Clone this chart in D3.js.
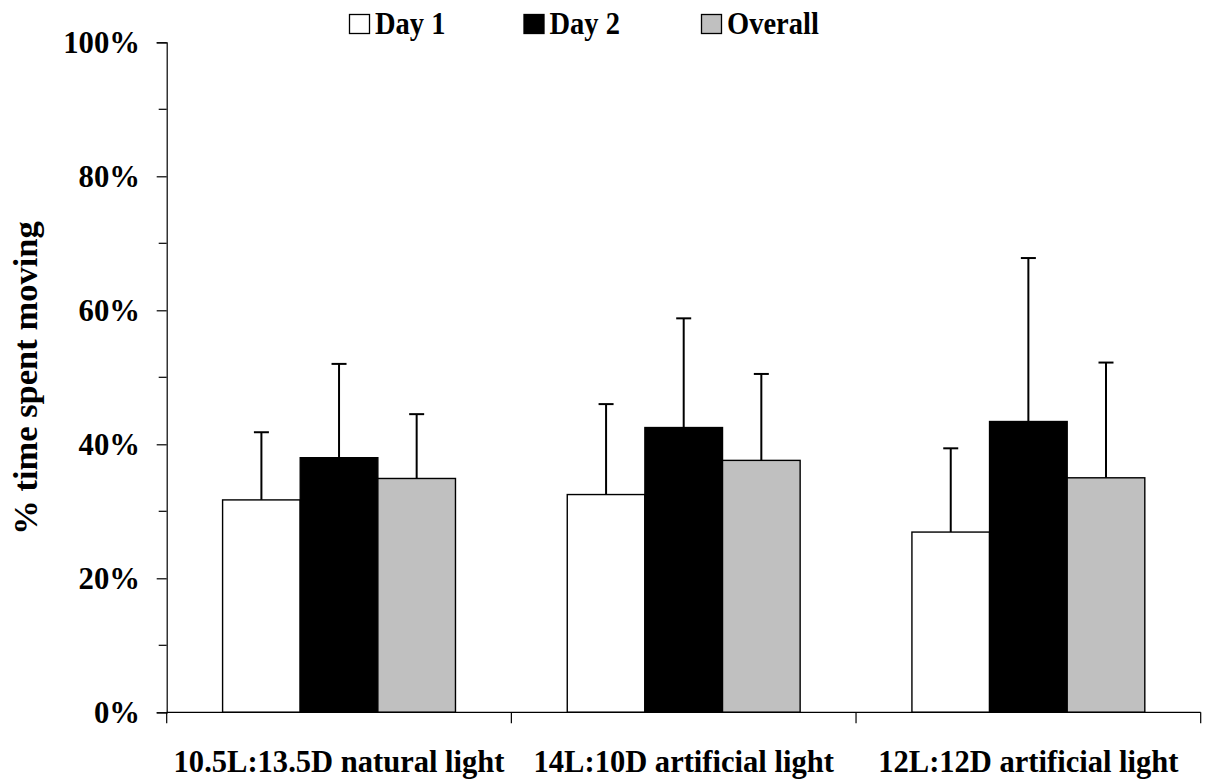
<!DOCTYPE html>
<html>
<head>
<meta charset="utf-8">
<script src="https://cdn.jsdelivr.net/npm/d3@7"></script>
<style>
  html, body { margin: 0; padding: 0; background: #fff; }
  svg { display: block; }
  text { font-family: "Liberation Serif", "Times New Roman", serif; font-weight: bold; fill: #000; }
</style>
</head>
<body>
<svg id="chart" width="1211" height="783"></svg>
<script>
// Photoperiod conditions
const categories = ["10.5L:13.5D natural light", "14L:10D artificial light", "12L:12D artificial light"];
const seriesNames = ["Day 1", "Day 2", "Overall"];
const seriesColors = ["#ffffff", "#000000", "#c0c0c0"];

// Mean % time spent moving and the upper error (SD)
const day1 = [31.7, 32.5, 26.9];
const day1Err = [10.1, 13.5, 12.5];
const day2 = [38.0, 42.5, 43.4];
const day2Err = [14.0, 16.3, 24.4];
const overall = [34.9, 37.6, 35.0];
const overallErr = [9.6, 12.9, 17.2];

const yTicks = [0, 20, 40, 60, 80, 100];
const yMinorTicks = [10, 30, 50, 70, 90];

const values = [day1, day2, overall];
const errors = [day1Err, day2Err, overallErr];

const svg = d3.select("#chart");

const plotLeft = 166.7, plotRight = 1200.7, plotTop = 42.3, plotBottom = 712.3;

const y = d3.scaleLinear().domain([0, 100]).range([plotBottom, plotTop]);
const x0 = d3.scaleBand().domain(categories).range([plotLeft, plotRight]).padding(0);
const x1 = d3.scaleBand().domain(seriesNames).range([0, x0.bandwidth()])
  .paddingInner(0).paddingOuter(0.72);

// Rows for each bar
const rows = [];
categories.forEach((c, ci) => {
  seriesNames.forEach((s, si) => {
    rows.push({ cat: c, series: s, si, value: values[si][ci], err: errors[si][ci] });
  });
});

// Error bars (drawn behind bars so the stem starts at the bar top)
const capHalf = 7.5;
const eg = svg.append("g").attr("stroke", "#000").attr("stroke-width", 2);
rows.forEach(d => {
  const cx = x0(d.cat) + x1(d.series) + x1.bandwidth() / 2;
  eg.append("line").attr("x1", cx).attr("x2", cx)
    .attr("y1", y(d.value)).attr("y2", y(d.value + d.err));
  eg.append("line").attr("x1", cx - capHalf).attr("x2", cx + capHalf)
    .attr("y1", y(d.value + d.err)).attr("y2", y(d.value + d.err));
});

// Bars
svg.append("g").selectAll("rect").data(rows).join("rect")
  .attr("x", d => x0(d.cat) + x1(d.series))
  .attr("y", d => y(d.value))
  .attr("width", x1.bandwidth())
  .attr("height", d => y(0) - y(d.value))
  .attr("fill", d => seriesColors[d.si])
  .attr("stroke", "#000")
  .attr("stroke-width", 1.4);

// Y axis with major ticks and labels (slightly condensed serif type)
const yAxis = d3.axisLeft(y).tickValues(yTicks).tickSize(10).tickFormat(d => d + "%");
const yg = svg.append("g").attr("transform", `translate(${plotLeft},0)`).call(yAxis);
yg.select(".domain").attr("stroke", "#000").attr("stroke-width", 1.2);
yg.selectAll(".tick line").attr("stroke", "#000").attr("stroke-width", 1.2);
yg.selectAll(".tick text")
  .attr("x", 0).attr("dy", "0.33em")
  .attr("transform", "translate(-26.7,0) scale(0.96,1)")
  .attr("font-size", 32)
  .style("font-family", '"Liberation Serif", "Times New Roman", serif').style("font-weight", "bold");

// Minor y ticks
svg.append("g").selectAll("line").data(yMinorTicks).join("line")
  .attr("x1", plotLeft - 8).attr("x2", plotLeft)
  .attr("y1", d => y(d)).attr("y2", d => y(d))
  .attr("stroke", "#000").attr("stroke-width", 1.2);

// X axis: baseline with tick marks at category boundaries
const xg = svg.append("g");
xg.append("line").attr("x1", plotLeft).attr("x2", plotRight)
  .attr("y1", plotBottom).attr("y2", plotBottom)
  .attr("stroke", "#000").attr("stroke-width", 1.2);
const boundaries = categories.map(c => x0(c)).concat([x0(categories[categories.length - 1]) + x0.bandwidth()]);
xg.selectAll("line.tk").data(boundaries).join("line").attr("class", "tk")
  .attr("x1", d => d).attr("x2", d => d)
  .attr("y1", plotBottom).attr("y2", plotBottom + 11)
  .attr("stroke", "#000").attr("stroke-width", 1.2);
xg.selectAll("text").data(categories).join("text")
  .attr("transform", d => `translate(${x0(d) + x0.bandwidth() / 2},772) scale(0.94,1)`)
  .attr("text-anchor", "middle")
  .attr("font-size", 32.5)
  .text(d => d);

// Y axis title
svg.append("text")
  .attr("transform", "translate(37,378) rotate(-90)")
  .attr("text-anchor", "middle")
  .attr("font-size", 34.5)
  .text("% time spent moving");

// Legend
const legendX = [349, 523.5, 701];
const lg = svg.append("g");
seriesNames.forEach((s, i) => {
  lg.append("rect").attr("x", legendX[i] + 0.5).attr("y", 14.5).attr("width", 20).attr("height", 19)
    .attr("fill", seriesColors[i]).attr("stroke", "#000").attr("stroke-width", 1.3);
  lg.append("text").attr("transform", `translate(${legendX[i] + 26},34) scale(0.92,1)`)
    .attr("font-size", 31).text(s);
});
</script>
</body>
</html>
